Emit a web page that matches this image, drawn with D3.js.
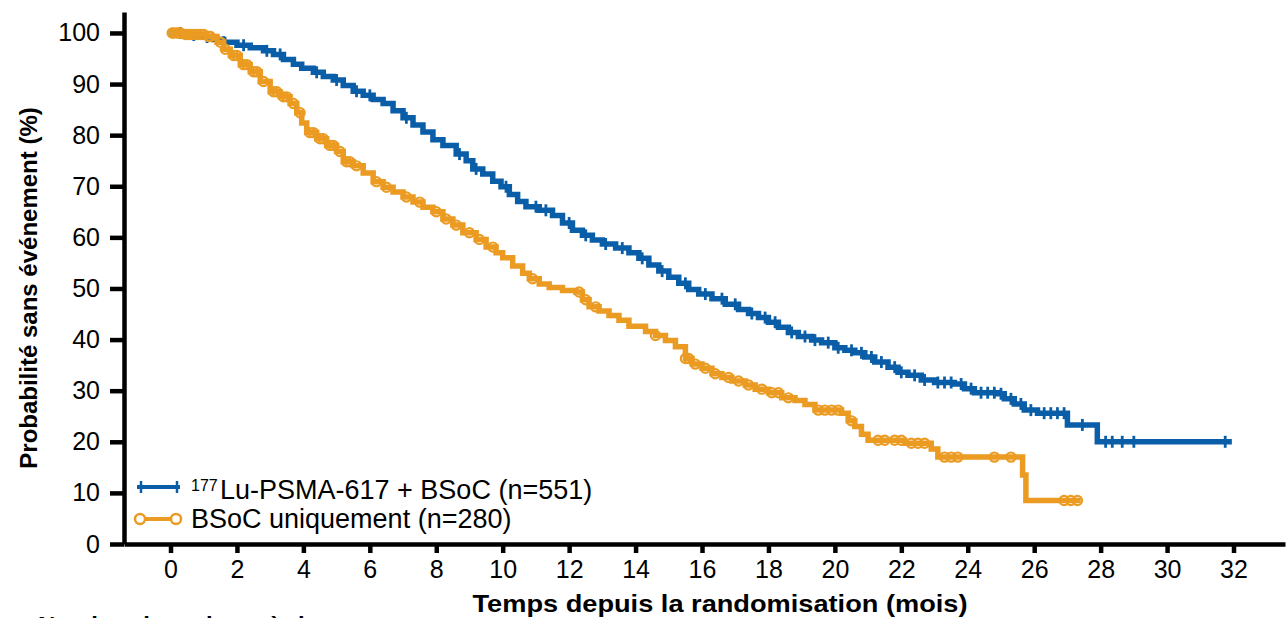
<!DOCTYPE html>
<html>
<head>
<meta charset="utf-8">
<script src="https://cdn.jsdelivr.net/npm/d3@7"></script>
<style>
  html, body { margin: 0; padding: 0; background: #fff; overflow: hidden; }
  svg { display: block; font-family: "Liberation Sans", Arial, sans-serif; }
</style>
</head>
<body>
<svg id="chart" width="1287" height="618"></svg>
<script>
// Axis ticks
const xTicks = d3.range(0, 33, 2);
const yTicks = d3.range(0, 101, 10);

// Series labels
const seriesNames = ["Lu-PSMA-617 + BSoC (n=551)", "BSoC uniquement (n=280)"];
const seriesSup = ["177", ""];

// Kaplan–Meier steps: [time (months), event-free probability (%)]
const lutetiumSteps = [
  [0, 100], [0.5, 99.6], [0.9, 99.2], [1.3, 98.7], [1.6, 98.2], [2.0, 97.6],
  [2.4, 97.1], [2.8, 96.5], [3.1, 95.8], [3.4, 94.8], [3.7, 93.9], [3.95, 93.1],
  [4.3, 92.3], [4.6, 91.5], [4.9, 90.8], [5.2, 89.7], [5.5, 88.6], [5.8, 87.8],
  [6.1, 87.0], [6.4, 86.2], [6.7, 84.8], [7.0, 83.4], [7.3, 82.0], [7.6, 80.6],
  [7.9, 79.1], [8.2, 78.0], [8.6, 76.3], [8.9, 75.0], [9.1, 73.4], [9.4, 72.4],
  [9.7, 71.0], [9.95, 69.9], [10.2, 68.4], [10.45, 67.0], [10.7, 66.0], [11.1, 65.3],
  [11.5, 64.3], [11.8, 62.8], [12.1, 61.4], [12.4, 60.4], [12.7, 59.5], [13.0, 58.7],
  [13.4, 57.9], [13.8, 57.0], [14.1, 55.9], [14.4, 54.6], [14.7, 53.4], [15.0, 52.2],
  [15.3, 51.0], [15.6, 49.8], [15.9, 48.9], [16.3, 48.0], [16.7, 46.9], [17.1, 45.9],
  [17.4, 45.1], [17.7, 44.3], [18.0, 43.4], [18.3, 42.4], [18.6, 41.4], [18.9, 40.6],
  [19.3, 39.9], [19.6, 39.4], [20.0, 38.4], [20.3, 37.9], [20.6, 37.4], [20.9, 36.6],
  [21.2, 35.6], [21.6, 34.6], [21.9, 33.6], [22.2, 33.0], [22.6, 32.1], [23.0, 31.6],
  [23.6, 31.3], [23.9, 30.4], [24.2, 29.6], [24.9, 29.4], [25.1, 28.4], [25.4, 27.4],
  [25.7, 26.2], [26.1, 25.6], [27.0, 23.3], [27.9, 20.0], [31.95, 20.0]
];
const bsocSteps = [
  [0, 100], [0.4, 99.7], [1.1, 99.3], [1.4, 98.2], [1.6, 96.8], [1.8, 95.6],
  [2.1, 93.8], [2.4, 92.4], [2.7, 90.5], [3.0, 88.5], [3.3, 87.5], [3.6, 86.2],
  [3.8, 84.4], [3.95, 82.4], [4.1, 80.5], [4.4, 79.3], [4.7, 78.0], [5.0, 76.8],
  [5.2, 74.8], [5.5, 74.0], [5.8, 72.6], [6.1, 70.9], [6.4, 69.8], [6.7, 68.9],
  [7.0, 67.9], [7.3, 66.9], [7.6, 65.9], [7.9, 65.0], [8.2, 63.6], [8.5, 62.4],
  [8.8, 60.9], [9.2, 59.6], [9.5, 58.1], [9.8, 57.0], [10.0, 56.0], [10.3, 54.4],
  [10.6, 53.0], [10.8, 51.9], [11.1, 50.9], [11.4, 50.2], [11.8, 49.6], [12.2, 49.3],
  [12.4, 47.8], [12.6, 46.4], [12.9, 45.6], [13.2, 44.7], [13.5, 43.8], [13.8, 42.6],
  [14.3, 41.6], [14.6, 40.8], [14.9, 39.8], [15.2, 38.6], [15.5, 36.3], [15.7, 35.2],
  [16.0, 34.4], [16.3, 33.3], [16.6, 32.6], [16.9, 31.9], [17.3, 31.1], [17.6, 30.3],
  [18.0, 29.6], [18.4, 28.6], [18.8, 28.1], [19.1, 27.3], [19.4, 26.2], [20.2, 25.6],
  [20.4, 24.1], [20.6, 23.0], [20.8, 21.5], [21.0, 20.3], [22.1, 19.7], [22.9, 18.6],
  [23.1, 17.0], [25.65, 13.5], [25.75, 8.5], [27.4, 8.5]
];

// Censoring times (months)
const lutetiumCensored = [
  0.3, 0.7, 1.1, 1.6, 2.2, 2.9, 3.3, 4.4, 5.0, 5.6, 6.0, 7.1, 8.7, 9.2, 10.1, 11.0,
  11.3, 12.0, 12.5, 13.1, 13.6, 14.2, 14.8, 15.5, 16.1, 16.6, 17.0, 17.5, 17.9,
  18.2, 18.7, 19.1, 19.4, 19.8, 20.1, 20.5, 20.8, 21.1, 21.4, 21.8, 22.0, 22.4,
  22.7, 23.1, 23.3, 23.5, 23.8, 24.1, 24.4, 24.6, 24.8, 25.0, 25.3, 25.6, 25.9,
  26.3, 26.5, 26.7, 26.9, 27.45, 28.15, 28.35, 28.65, 29.0, 31.75
];
const bsocCensored = [
  0.05, 0.1, 0.2, 0.25, 0.3, 0.45, 0.5, 0.6, 0.7, 0.8, 0.9, 1.0, 1.15, 1.2, 1.5,
  1.65, 1.9, 2.0, 2.2, 2.3, 2.5, 2.6, 2.8, 3.1, 3.2, 3.4, 3.5, 3.7, 3.9, 4.2, 4.3,
  4.5, 4.6, 4.8, 4.9, 5.1, 5.3, 5.4, 5.6, 6.2, 6.5, 7.1, 7.5, 8.0, 8.3, 8.6, 9.0,
  9.3, 9.7, 10.9, 12.3, 12.5, 12.8, 14.6, 15.5, 15.6, 15.8, 16.1, 16.4, 16.8,
  17.1, 17.4, 17.8, 18.1, 18.3, 18.6, 19.5, 19.7, 19.9, 20.1, 20.5, 21.3, 21.5,
  21.8, 22.0, 22.3, 22.5, 22.7, 23.3, 23.5, 23.7, 24.8, 25.3, 26.9, 27.1, 27.3
];

const BLUE = "#0a5ea8";
const ORANGE = "#eb9b22";
const FONT = '"Liberation Sans", Arial, sans-serif';

const svg = d3.select("#chart");

const x = d3.scaleLinear().domain([-1.4, 33.55]).range([124, 1285]);
const y = d3.scaleLinear().domain([0, 104.1]).range([544, 12]);

// survival value at time t from a step list
function valueAt(steps, t) {
  let v = steps[0][1];
  for (const [st, sv] of steps) { if (st <= t) v = sv; else break; }
  return v;
}

// ---- Axes ----
const yAxis = d3.axisLeft(y).tickValues(yTicks).tickSize(14).tickSizeOuter(0).tickPadding(10);
const gy = svg.append("g").attr("transform", "translate(124,0)").call(yAxis);
gy.select(".domain").attr("stroke", "#000").attr("stroke-width", 4.5);
gy.selectAll(".tick line").attr("stroke", "#000").attr("stroke-width", 4.5);
gy.selectAll(".tick text").attr("font-size", 25).attr("font-family", FONT).attr("fill", "#000");

const xAxis = d3.axisBottom(x).tickValues(xTicks).tickSize(9).tickSizeOuter(0).tickPadding(7);
const gx = svg.append("g").attr("transform", "translate(0,544)").call(xAxis);
gx.select(".domain").attr("stroke", "#000").attr("stroke-width", 4.5);
gx.selectAll(".tick line").attr("stroke", "#000").attr("stroke-width", 4.5);
gx.selectAll(".tick text").attr("font-size", 25).attr("font-family", FONT).attr("fill", "#000");

// ---- Curves ----
const line = d3.line().x(d => x(d[0])).y(d => y(d[1])).curve(d3.curveStepAfter);

svg.append("path").datum(lutetiumSteps).attr("d", line)
  .attr("fill", "none").attr("stroke", BLUE).attr("stroke-width", 5.5);
svg.append("g").selectAll("line").data(lutetiumCensored).join("line")
  .attr("x1", d => x(d)).attr("x2", d => x(d))
  .attr("y1", d => y(valueAt(lutetiumSteps, d)) - 6)
  .attr("y2", d => y(valueAt(lutetiumSteps, d)) + 6)
  .attr("stroke", BLUE).attr("stroke-width", 2.8);

svg.append("path").datum(bsocSteps).attr("d", line)
  .attr("fill", "none").attr("stroke", ORANGE).attr("stroke-width", 5.5);
svg.append("g").selectAll("circle").data(bsocCensored).join("circle")
  .attr("cx", d => x(d)).attr("cy", d => y(valueAt(bsocSteps, d)))
  .attr("r", 4.6).attr("fill", "none").attr("stroke", ORANGE).attr("stroke-width", 2.2);

// ---- Legend ----
const leg = svg.append("g");
leg.append("line").attr("x1", 137).attr("x2", 180).attr("y1", 487).attr("y2", 487)
  .attr("stroke", BLUE).attr("stroke-width", 4);
[141, 177].forEach(cx => leg.append("line").attr("x1", cx).attr("x2", cx)
  .attr("y1", 481).attr("y2", 493).attr("stroke", BLUE).attr("stroke-width", 2.5));
const t1 = leg.append("text").attr("x", 191).attr("y", 499).attr("font-family", FONT).attr("fill", "#000");
t1.append("tspan").attr("font-size", 16).attr("dy", -8).text(seriesSup[0]);
t1.append("tspan").attr("x", 220).attr("dy", 8).attr("font-size", 27).text(seriesNames[0]);

leg.append("line").attr("x1", 139).attr("x2", 177).attr("y1", 519).attr("y2", 519)
  .attr("stroke", ORANGE).attr("stroke-width", 4);
[140, 176].forEach(cx => leg.append("circle").attr("cx", cx).attr("cy", 519).attr("r", 5)
  .attr("fill", "#fff").attr("stroke", ORANGE).attr("stroke-width", 2.5));
leg.append("text").attr("x", 191).attr("y", 528).attr("font-family", FONT)
  .attr("font-size", 27).attr("fill", "#000").text(seriesNames[1]);

// ---- Axis titles ----
svg.append("text").attr("transform", "translate(37,288) rotate(-90)")
  .attr("text-anchor", "middle").attr("font-family", FONT).attr("font-weight", "bold")
  .attr("font-size", 24).attr("fill", "#000").text("Probabilité sans événement (%)");
svg.append("text").attr("x", 720).attr("y", 612)
  .attr("text-anchor", "middle").attr("font-family", FONT).attr("font-weight", "bold")
  .attr("font-size", 24).attr("textLength", 495).attr("lengthAdjust", "spacingAndGlyphs")
  .attr("fill", "#000").text("Temps depuis la randomisation (mois)");

// first line of the at-risk table, cut by the bottom edge
svg.append("text").attr("x", 38).attr("y", 634).attr("font-family", FONT).attr("font-weight", "bold")
  .attr("font-size", 24).attr("fill", "#000").text("Nombre de patients à risque");
</script>
</body>
</html>
